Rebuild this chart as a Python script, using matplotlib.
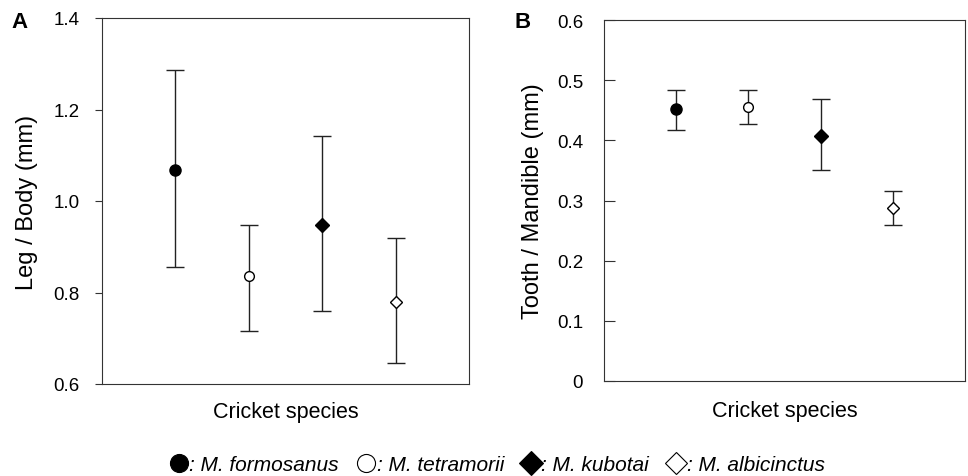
import matplotlib.pyplot as plt
from matplotlib.lines import Line2D

plt.rcParams['font.family'] = ['Liberation Sans', 'DejaVu Sans']

species = ['M. formosanus', 'M. tetramorii', 'M. kubotai', 'M. albicinctus']
markers = ['o', 'o', 'D', 'D']
faces = ['black', 'white', 'black', 'white']
msizes = [8, 7, 7.5, 6]

# panel A: leg / body
legA = [1.068, 0.836, 0.948, 0.780]
legA_hi = [1.286, 0.948, 1.142, 0.920]
legA_lo = [0.855, 0.715, 0.760, 0.645]

# panel B: tooth / mandible
toothB = [0.452, 0.456, 0.408, 0.287]
toothB_hi = [0.483, 0.483, 0.468, 0.315]
toothB_lo = [0.417, 0.427, 0.350, 0.259]

fig = plt.figure(figsize=(9.68, 4.77), dpi=100)
axA = fig.add_axes([102/968, 1-385/477, 367/968, 366/477])
axB = fig.add_axes([604/968, 1-382/477, 361/968, 361/477])

def draw(ax, vals, hi, lo):
    for i in range(4):
        ax.errorbar(i+1, vals[i], yerr=[[vals[i]-lo[i]], [hi[i]-vals[i]]],
                    fmt=markers[i], mfc=faces[i], mec='black', ms=msizes[i],
                    ecolor='#222222', elinewidth=1, capsize=6.5, capthick=1, mew=1)
    ax.set_xlim(0, 5)
    ax.set_xticks([])
    for s in ax.spines.values():
        s.set_color('#333333')

draw(axA, legA, legA_hi, legA_lo)
axA.set_ylim(0.6, 1.4)
axA.set_yticks([0.6, 0.8, 1.0, 1.2, 1.4])
axA.set_yticklabels(['0.6', '0.8', '1.0', '1.2', '1.4'])
axA.tick_params(axis='y', direction='out', length=5, labelsize=13.5, pad=11, color='#333333')
axA.set_ylabel('Leg / Body (mm)', fontsize=17, labelpad=11)
axA.set_xlabel('Cricket species', fontsize=15.5, labelpad=12)

draw(axB, toothB, toothB_hi, toothB_lo)
axB.set_ylim(0, 0.6)
axB.set_yticks([0, 0.1, 0.2, 0.3, 0.4, 0.5, 0.6])
axB.set_yticklabels(['0', '0.1', '0.2', '0.3', '0.4', '0.5', '0.6'])
axB.tick_params(axis='y', direction='in', length=8, labelsize=13.5, pad=15, color='#333333')
axB.set_ylabel('Tooth / Mandible (mm)', fontsize=17, labelpad=9)
axB.set_xlabel('Cricket species', fontsize=15.5, labelpad=14)

fig.text(20/968, 1-22/477, 'A', fontsize=16, fontweight='bold', ha='center', va='center')
fig.text(523/968, 1-22/477, 'B', fontsize=16, fontweight='bold', ha='center', va='center')

handles = [Line2D([], [], marker=markers[i], mfc=faces[i], mec='black', ls='none',
                  ms=[13, 13, 12, 11][i], mew=0.8) for i in range(4)]
labels = [': ' + s for s in species]
fig.legend(handles, labels, loc='center', bbox_to_anchor=(0.513, 1-466/477), ncol=4,
           frameon=False, prop={'size': 15, 'style': 'italic'}, handletextpad=0.0,
           columnspacing=0.8, handlelength=1.0)

plt.savefig('out.png', dpi=100)
